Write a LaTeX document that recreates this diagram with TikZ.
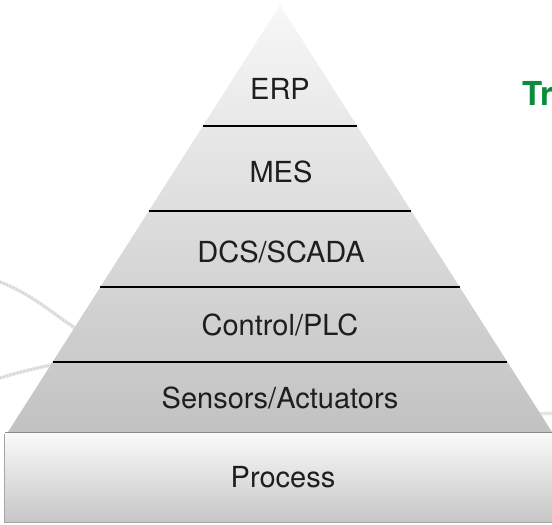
\documentclass[tikz,border=0pt]{standalone}
\usepackage{fontspec}
\setmainfont{TeX Gyre Heros}
\usetikzlibrary{calc}
\definecolor{labelgray}{RGB}{30,30,30}
\definecolor{titlegreen}{RGB}{10,140,60}

\begin{document}
\begin{tikzpicture}[x=1pt,y=-1pt,
  layer/.style={anchor=base,text=labelgray,font=\fontsize{29}{34}\selectfont},
  sep/.style={line width=2.3pt,black},
  cable/.style={line width=3.5pt,gray!20,line cap=round},
  twist/.style={line width=1.4pt,gray!38,dash pattern=on 1.5pt off 2pt}]
\useasboundingbox (0,0) rectangle (552,525);
% cables in the back
\draw[cable] (0,282) .. controls (30,293) and (55,315) .. (75,328);
\draw[cable] (0,378) .. controls (20,372) .. (55,364);
\draw[cable] (530,414) -- (560,413);
\draw[twist] (0,282) .. controls (30,293) and (55,315) .. (75,328);
\draw[twist] (0,378) .. controls (20,372) .. (55,364);
% pyramid
\coordinate (apex) at (280,5);
\coordinate (bl) at (8,432);
\coordinate (br) at (552,432);
\shade[top color=black!3,bottom color=black!24] (apex) -- (bl) -- (br) -- cycle;
\foreach \t [count=\i] in {0.2834,0.4824,0.6604,0.8361}{
  \coordinate (l\i) at ($(apex)!\t!(bl)$);
  \coordinate (r\i) at ($(apex)!\t!(br)$);
  \draw[sep] (l\i) -- (r\i);
}
% process block
\fill[black!35] (4,434) rectangle (560,523);
\shade[top color=black!2,bottom color=black!22] (5,433) rectangle (560,521);
\draw[black!45,line width=1pt] (5,432.5) -- (560,432.5);
\node[layer] (erp) at (280,99) {ERP};
\node[layer] (mes) at (281,182) {MES};
\node[layer] (dcs) at (281,262) {DCS/SCADA};
\node[layer] (plc) at (280,335) {Control/PLC};
\node[layer] (sensors) at (280,408) {Sensors/Actuators};
\node[layer] (process) at (283,487) {Process};
\node[anchor=base west,text=titlegreen,font=\bfseries\fontsize{33}{38}\selectfont,inner sep=0pt] (title) at (522,105) {Tr};
\end{tikzpicture}
\end{document}
